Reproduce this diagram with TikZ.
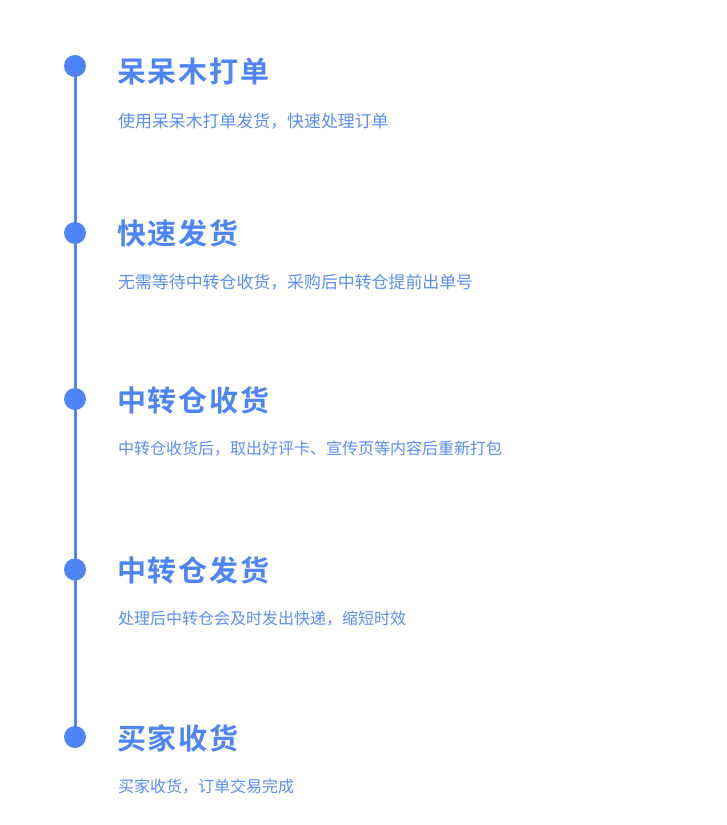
\documentclass[tikz,border=0pt]{standalone}
\usepackage{fontspec}
\usepackage{xcolor}
\newfontfamily\cjk{Noto Sans CJK SC}
\newfontfamily\cjkbold[LetterSpace=6]{Noto Sans CJK SC Bold}
\definecolor{lineblue}{HTML}{4D85F7}
\definecolor{textblue}{HTML}{5B8DF6}

\begin{document}
\begin{tikzpicture}[x=1pt,y=-1pt,
    stepdot/.style={circle,fill=lineblue,minimum size=22pt,inner sep=0pt},
    steptitle/.style={anchor=west,inner sep=0pt,text=lineblue,font=\cjkbold\fontsize{29}{30}\selectfont},
    stepnote/.style={anchor=west,inner sep=0pt,text=textblue}]
        \useasboundingbox[fill=white] (0,0) rectangle (727,825);
        \foreach \k/\y/\ty/\ny/\f/\t/\s in {1/66/71.5/121/16.9/呆呆木打单/使用呆呆木打单发货，快速处理订单,
                                            2/233/233.5/282.5/16.9/快速发货/无需等待中转仓收货，采购后中转仓提前出单号,
                                            3/399/400/449/16/中转仓收货/中转仓收货后，取出好评卡、宣传页等内容后重新打包,
                                            4/569.5/570/619/16/中转仓发货/处理后中转仓会及时发出快递，缩短时效,
                                            5/737/738.5/787/16/买家收货/买家收货，订单交易完成}{
            \node[stepdot] (d\k) at (75,\y) {};
            \node[steptitle] (t\k) at (117,\ty) {\t};
            \node[stepnote,font=\cjk\fontsize{\f}{18}\selectfont] (n\k) at (118,\ny) {\s};
        }
        \draw[lineblue,line width=3pt] (d1.center) -- (d5.center);
    \end{tikzpicture}
\end{document}
